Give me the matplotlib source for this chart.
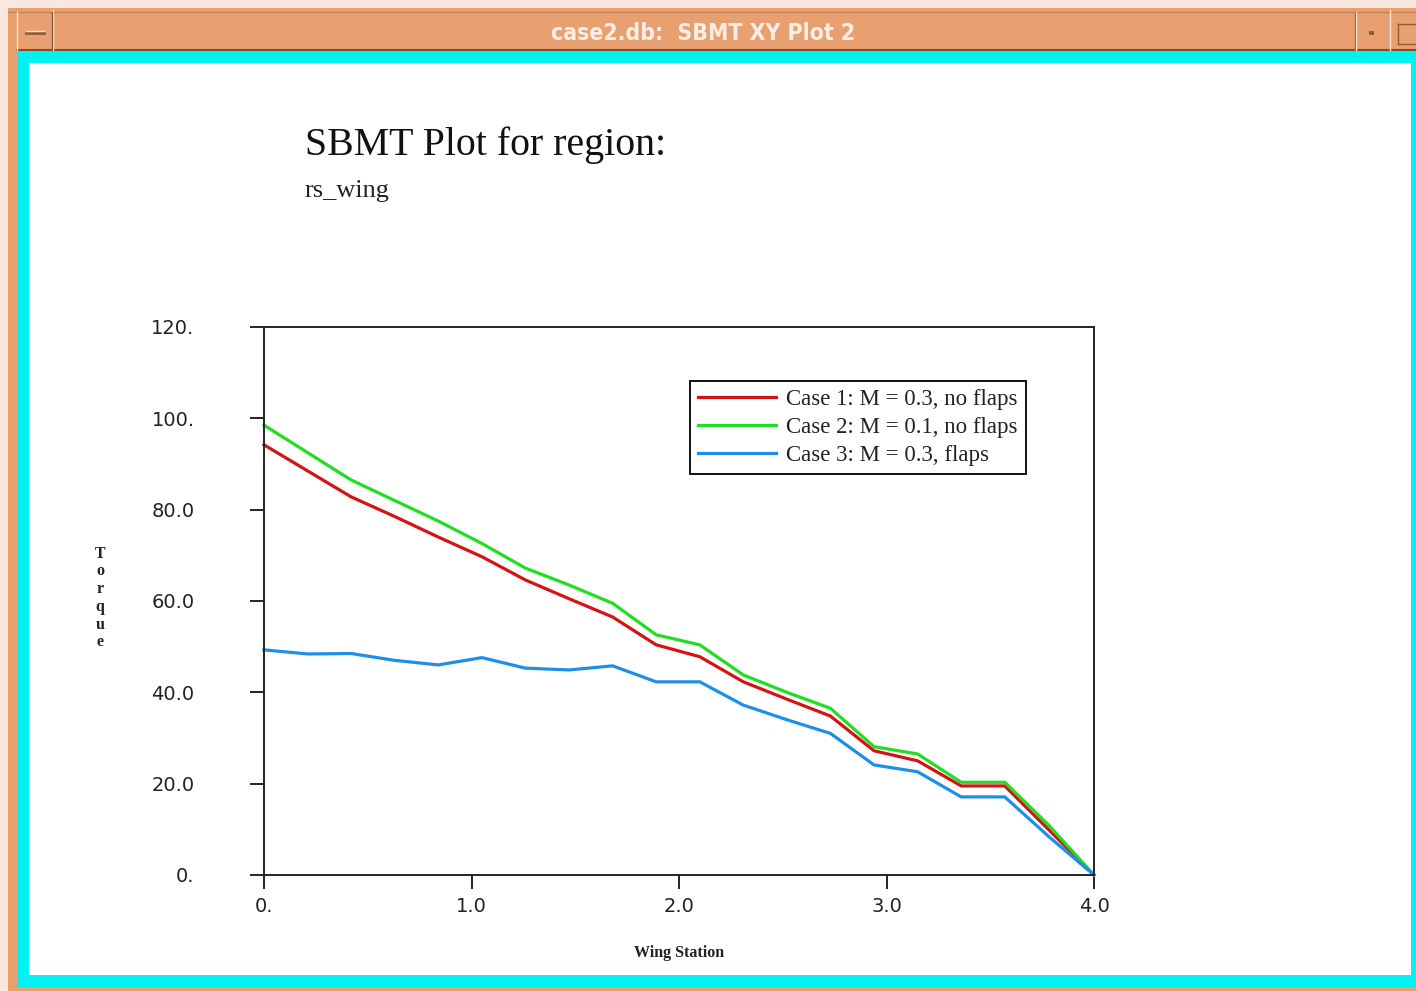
import matplotlib
matplotlib.use("Agg")
import matplotlib.pyplot as plt
from matplotlib.patches import Rectangle
from matplotlib.lines import Line2D

# Wing stations and torque for the three cases
wing_station = [0.0, 0.21, 0.42, 0.63, 0.84, 1.05, 1.26, 1.47, 1.68, 1.89,
                2.10, 2.31, 2.52, 2.73, 2.94, 3.15, 3.36, 3.57, 3.78, 4.0]
case1_torque = [94.2, 88.5, 82.8, 78.5, 74.0, 69.7, 64.6, 60.5, 56.5, 50.4,
                47.8, 42.3, 38.5, 34.8, 27.2, 25.0, 19.5, 19.5, 10.0, 0.0]
case2_torque = [98.5, 92.5, 86.5, 82.0, 77.5, 72.6, 67.2, 63.5, 59.5, 52.6,
                50.4, 43.8, 40.0, 36.5, 28.1, 26.5, 20.3, 20.3, 11.0, 0.0]
case3_torque = [49.3, 48.4, 48.5, 47.0, 46.0, 47.6, 45.3, 44.9, 45.8, 42.3,
                42.3, 37.2, 34.0, 31.0, 24.1, 22.6, 17.1, 17.1, 8.5, 0.0]

case_labels = ["Case 1: M = 0.3, no flaps",
               "Case 2: M = 0.1, no flaps",
               "Case 3: M = 0.3, flaps"]
case_colors = ["#D41414", "#22DD22", "#1E8FE8"]

x_ticks = [0.0, 1.0, 2.0, 3.0, 4.0]
x_tick_labels = ["0.", "1.0", "2.0", "3.0", "4.0"]
y_ticks = [0, 20, 40, 60, 80, 100, 120]
y_tick_labels = ["0.", "20.0", "40.0", "60.0", "80.0", "100.", "120."]

W, H = 1416, 991
fig = plt.figure(figsize=(W / 100, H / 100), dpi=100)
fig.patch.set_facecolor("#F9E8DD")


def px_rect(x0, y0, x1, y1, color, z=0):
    """Rectangle given in pixel coords measured from the top-left corner."""
    r = Rectangle((x0 / W, 1 - y1 / H), (x1 - x0) / W, (y1 - y0) / H,
                  transform=fig.transFigure, facecolor=color,
                  edgecolor="none", zorder=z)
    fig.add_artist(r)


def px_line(xs, ys, color, lw=1.0, z=2):
    fig.add_artist(Line2D([x / W for x in xs], [1 - y / H for y in ys],
                          transform=fig.transFigure, color=color,
                          linewidth=lw, zorder=z))


# window frame
px_rect(8, 8, W, H, "#E9A070", z=0)
px_rect(17, 50, W, 987, "#00F2F2", z=0.5)
px_rect(29, 63, 1411, 975, "#FFFFFF", z=0.6)

# title bar edges and button separators
px_line([8, W], [12, 12], "#C9834F", 1.0)
px_line([17, W], [50, 50], "#7A5230", 1.5)
px_line([17, 17], [12, 50], "#FBE3D2", 1.0)
px_line([53, 53], [10, 50], "#FBE3D2", 1.0)
px_line([52, 52], [12, 50], "#8A5C38", 1.0)
px_line([1355, 1355], [12, 50], "#8A5C38", 1.0)
px_line([1356, 1356], [12, 50], "#FBE3D2", 1.0)
px_line([1390, 1390], [10, 50], "#FBE3D2", 1.0)
px_line([26, 44], [33, 33], "#8A5C38", 2.0)
px_line([26, 44], [31, 31], "#FBE3D2", 1.0)
px_rect(1369, 31, 1374, 35, "#8A5C38", z=2)
px_line([1398, W], [24, 24], "#8A5C38", 1.0)
px_line([1398, 1398], [24, 44], "#8A5C38", 1.0)
px_line([1398, W], [44, 44], "#8A5C38", 1.0)

fig.text(703 / W, 1 - 33 / H, "case2.db:  SBMT XY Plot 2",
         ha="center", va="center", color="#F8EEE6", fontsize=16.5,
         fontweight="bold", fontfamily="DejaVu Sans",
         fontstretch="condensed", zorder=3)

# headings
fig.text(305 / W, 1 - 155 / H, "SBMT Plot for region:", ha="left",
         va="baseline", fontsize=28.7, fontfamily="Liberation Serif",
         color="#111111", zorder=3)
fig.text(305 / W, 1 - 197 / H, "rs_wing", ha="left", va="baseline",
         fontsize=19, fontfamily="Liberation Serif", color="#222222",
         zorder=3)

# plot area
ax = fig.add_axes([264 / W, 1 - 875 / H, (1094 - 264) / W, (875 - 327) / H])
ax.set_zorder(2)
ax.patch.set_alpha(0)

for yv, lab, col in zip([case1_torque, case2_torque, case3_torque],
                        case_labels, case_colors):
    ax.plot(wing_station, yv, color=col, linewidth=2.3, label=lab,
            solid_joinstyle="miter", clip_on=False)

ax.set_xlim(0, 4.0)
ax.set_ylim(0, 120)
for s in ax.spines.values():
    s.set_color("#222222")
    s.set_linewidth(1.4)

ax.set_xticks(x_ticks)
ax.set_xticklabels(x_tick_labels)
ax.set_yticks(y_ticks)
ax.set_yticklabels(y_tick_labels)
ax.tick_params(axis="both", direction="out", length=10, width=1.4,
               color="#222222", labelsize=14, labelcolor="#222222")
ax.tick_params(axis="y", pad=40)
ax.tick_params(axis="x", pad=6)
for lbl in ax.get_xticklabels() + ax.get_yticklabels():
    lbl.set_fontfamily("DejaVu Sans")

fig.text(679 / W, 1 - 953 / H, "Wing Station", ha="center", va="center",
         fontsize=11.5, fontfamily="Liberation Serif", fontweight="bold",
         color="#222222", zorder=3)
fig.text(100 / W, 1 - 598 / H, "T\no\nr\nq\nu\ne", ha="center", va="center",
         fontsize=11.5, fontfamily="Liberation Serif", fontweight="bold",
         linespacing=1.15, color="#222222", zorder=3)

leg = ax.legend(loc="upper left",
                bbox_to_anchor=(690 / W, 1 - 381 / H),
                bbox_transform=fig.transFigure, borderaxespad=0,
                fancybox=False, frameon=True, framealpha=1,
                edgecolor="#111111", handlelength=3.4, handletextpad=0.45,
                borderpad=0.36, labelspacing=0.29,
                prop={"family": "Liberation Serif", "size": 16.5})
leg.get_frame().set_linewidth(1.4)
for t in leg.get_texts():
    t.set_color("#222222")

fig.savefig("out.png", dpi=100, facecolor=fig.get_facecolor())
